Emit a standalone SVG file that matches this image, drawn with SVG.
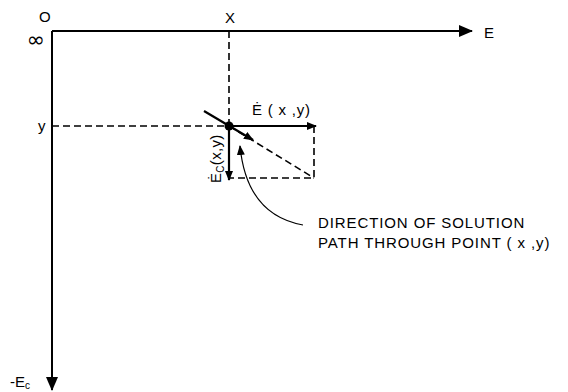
<svg xmlns="http://www.w3.org/2000/svg" width="568" height="392" viewBox="0 0 568 392">
<style>
.t{font-family:"Liberation Sans",Arial,sans-serif;font-size:15px;fill:#000}
.ax{stroke:#000;stroke-width:2;fill:none}
.d{stroke:#000;stroke-width:1.6;stroke-dasharray:7,4;fill:none}
.s{stroke:#000;stroke-width:2.2;fill:none}
.th{stroke:#000;stroke-width:1.2;fill:none}
</style>
<defs>
<marker id="big" markerWidth="14" markerHeight="12" refX="13" refY="6" orient="auto" markerUnits="userSpaceOnUse"><path d="M0,0 L14,6 L0,12 Z" fill="#000"/></marker>
<marker id="sm" markerWidth="10" markerHeight="8" refX="9" refY="4" orient="auto" markerUnits="userSpaceOnUse"><path d="M0,0 L10,4 L0,8 Z" fill="#000"/></marker>
</defs>
<g id="connectors">
<path class="ax" d="M52,31 H472" marker-end="url(#big)"/>
<path class="ax" d="M52,31 V390" marker-end="url(#big)"/>
<path class="d" d="M229,31 V126"/>
<path class="d" d="M52,126 H229"/>
<path class="d" d="M314,126 V178 H229"/>
<path class="d" d="M229,126 L314,178"/>
<path class="s" d="M229,126 H316" marker-end="url(#sm)"/>
<path class="s" d="M229,126 V180" marker-end="url(#sm)"/>
<path class="s" d="M204,111 L253,140" marker-end="url(#sm)"/>
<path class="th" d="M303,225 C270,219 245,198 240,146" marker-end="url(#sm)"/>
</g>
<circle cx="229" cy="126" r="4.5" fill="#000"/>
<g id="labels">
<text class="t" x="36" y="47" text-anchor="middle" style="font-family:'DejaVu Sans',sans-serif;font-size:22px">∞</text>
<text class="t" x="39" y="22">O</text>
<text class="t" x="225" y="23">X</text>
<text class="t" x="484" y="38">E</text>
<text class="t" x="38" y="131">y</text>
<text class="t" x="10" y="387">-E<tspan font-size="10" dy="2">c</tspan></text>
<text class="t" x="252" y="115" letter-spacing="0.8">Ė ( x ,y)</text>
<text class="t" transform="translate(221,183) rotate(-90)" letter-spacing="0.3">Ė<tspan font-size="10" dy="3">C</tspan><tspan dy="-3">(x,y)</tspan></text>
<text class="t" x="318" y="228" letter-spacing="0.9">DIRECTION OF SOLUTION</text>
<text class="t" x="318" y="248" letter-spacing="0.9">PATH THROUGH POINT ( x ,y)</text>
</g>
</svg>
